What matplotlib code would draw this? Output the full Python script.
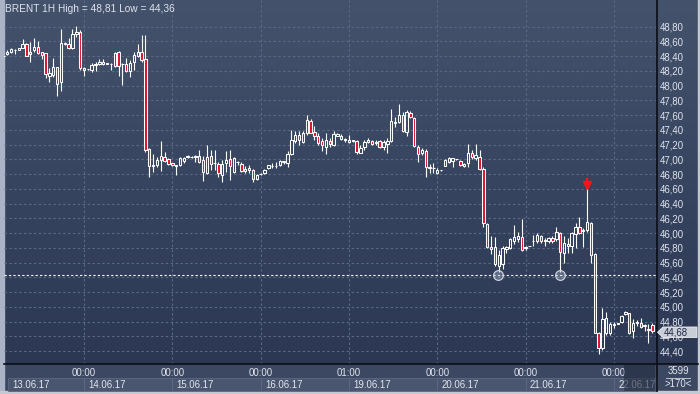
import numpy as np
import matplotlib
matplotlib.use("Agg")
import matplotlib.pyplot as plt
from matplotlib.patches import Rectangle, Polygon
from matplotlib.transforms import blended_transform_factory

plt.rcParams['font.family'] = ['Liberation Sans', 'DejaVu Sans']

# ---------------- data (BRENT 1H candles) ----------------
opens = [48.40, 48.435, 48.462, 48.48, 48.49, 48.516, 48.566, 48.435, 48.484, 48.52,
         48.453, 48.439, 48.136, 48.145, 48.249, 48.055, 48.566, 48.561, 48.516, 48.697,
         48.733, 48.213, 48.222, 48.213, 48.285, 48.29, 48.326, 48.303, 48.29, 48.272,
         48.453, 48.29, 48.29, 48.20, 48.326, 48.403, 48.453, 48.358, 47.137, 46.92,
         46.925, 46.993, 47.03, 47.006, 46.947, 46.92, 46.925, 46.985, 47.03, 47.03,
         47.03, 47.05, 46.993, 46.81, 47.047, 46.95, 46.94, 46.79, 46.955, 47.0,
         46.83, 46.96, 46.94, 46.84, 46.88, 46.857, 46.73, 46.80, 46.81, 46.88,
         46.905, 46.91, 46.925, 46.97, 46.95, 47.07, 47.25, 47.33, 47.241, 47.354,
         47.526, 47.368, 47.318, 47.255, 47.173, 47.255, 47.196, 47.32, 47.318, 47.273,
         47.24, 47.26, 47.255, 47.09, 47.165, 47.24, 47.25, 47.22, 47.255, 47.173,
         47.205, 47.255, 47.49, 47.512, 47.60, 47.377, 47.625, 47.558, 47.173, 47.083,
         47.12, 46.90, 46.89, 46.857, 46.853, 46.915, 46.97, 46.985, 47.0, 46.98,
         46.905, 46.947, 47.083, 47.02, 47.038, 46.866, 46.125, 45.81, 45.81, 45.555,
         45.58, 45.78, 45.80, 45.90, 45.92, 45.953, 45.80, 45.826, 45.89, 45.89,
         45.96, 45.90, 45.90, 45.94, 45.918, 45.998, 45.736, 45.82, 45.826, 45.99,
         46.08, 46.03, 46.043, 46.143, 45.718, 44.642, 44.44, 44.642, 44.642, 44.76,
         44.77, 44.79, 44.90, 44.913, 44.678, 44.78, 44.787, 44.74, 44.70, 44.75]
highs = [48.45, 48.484, 48.507, 48.493, 48.516, 48.629, 48.575, 48.588, 48.642, 48.611,
         48.46, 48.44, 48.236, 48.371, 48.255, 48.764, 48.597, 48.642, 48.764, 48.81,
         48.755, 48.258, 48.23, 48.303, 48.326, 48.362, 48.358, 48.31, 48.303, 48.453,
         48.475, 48.303, 48.371, 48.349, 48.453, 48.566, 48.688, 48.688, 47.16, 47.07,
         47.038, 47.25, 47.106, 47.02, 46.95, 46.93, 47.038, 47.038, 47.06, 47.04,
         47.06, 47.13, 47.04, 47.196, 47.128, 47.13, 46.97, 46.993, 47.12, 47.128,
         47.038, 46.985, 46.96, 46.91, 46.925, 46.87, 46.80, 46.81, 46.87, 46.93,
         46.95, 46.96, 46.99, 46.985, 47.12, 47.40, 47.38, 47.38, 47.39, 47.60,
         47.548, 47.45, 47.354, 47.287, 47.36, 47.287, 47.39, 47.36, 47.34, 47.296,
         47.33, 47.27, 47.27, 47.196, 47.264, 47.287, 47.264, 47.264, 47.27, 47.27,
         47.287, 47.69, 47.58, 47.75, 47.648, 47.67, 47.66, 47.58, 47.196, 47.16,
         47.137, 46.94, 46.947, 46.88, 46.86, 47.0, 47.038, 47.025, 47.01, 46.993,
         46.947, 47.21, 47.128, 47.21, 47.128, 46.90, 46.134, 45.96, 45.953, 45.77,
         45.82, 45.82, 45.93, 46.11, 46.02, 46.19, 45.82, 45.83, 45.975, 46.0,
         45.975, 45.94, 45.953, 45.96, 46.08, 46.02, 45.96, 45.93, 46.02, 46.134,
         46.215, 46.07, 46.608, 46.15, 45.73, 44.66, 44.98, 44.935, 44.80, 44.80,
         44.78, 44.89, 44.95, 44.92, 44.83, 44.82, 44.85, 44.77, 44.77, 44.78]
lows = [48.33, 48.416, 48.439, 48.43, 48.48, 48.507, 48.403, 48.326, 48.453, 48.425,
        48.362, 48.10, 48.05, 48.123, 47.865, 47.928, 48.55, 48.493, 48.493, 48.665,
        48.213, 48.136, 48.215, 48.181, 48.204, 48.281, 48.281, 48.295, 48.213, 48.258,
        48.132, 48.01, 48.181, 48.114, 48.213, 48.385, 48.326, 47.10, 46.76, 46.83,
        46.902, 46.85, 46.97, 46.925, 46.91, 46.79, 46.91, 46.95, 47.02, 47.02,
        46.97, 46.947, 46.712, 46.80, 46.857, 46.857, 46.767, 46.70, 46.834, 46.72,
        46.81, 46.925, 46.834, 46.81, 46.81, 46.70, 46.72, 46.79, 46.80, 46.87,
        46.88, 46.88, 46.91, 46.94, 46.90, 47.06, 47.22, 47.196, 47.219, 47.33,
        47.354, 47.264, 47.196, 47.115, 47.07, 47.173, 47.183, 47.32, 47.264, 47.24,
        47.228, 47.235, 47.07, 47.083, 47.128, 47.22, 47.196, 47.196, 47.16, 47.128,
        47.083, 47.24, 47.445, 47.49, 47.377, 47.318, 47.558, 47.173, 46.96, 47.06,
        46.758, 46.82, 46.812, 46.80, 46.85, 46.91, 46.947, 46.90, 46.99, 46.91,
        46.895, 46.90, 47.0, 46.99, 46.857, 46.09, 45.80, 45.72, 45.555, 45.48,
        45.52, 45.73, 45.78, 45.86, 45.88, 45.76, 45.77, 45.82, 45.82, 45.87,
        45.87, 45.82, 45.87, 45.87, 45.89, 45.48, 45.60, 45.73, 45.73, 45.80,
        45.99, 45.81, 46.02, 45.60, 44.64, 44.36, 44.416, 44.62, 44.62, 44.71,
        44.765, 44.78, 44.89, 44.63, 44.575, 44.74, 44.71, 44.68, 44.51, 44.64]
closes = [48.40, 48.453, 48.493, 48.485, 48.505, 48.561, 48.407, 48.462, 48.52, 48.448,
          48.416, 48.154, 48.168, 48.249, 48.023, 48.584, 48.584, 48.516, 48.701, 48.724,
          48.236, 48.236, 48.225, 48.281, 48.292, 48.317, 48.29, 48.30, 48.292, 48.439,
          48.267, 48.295, 48.204, 48.303, 48.421, 48.462, 48.349, 47.128, 46.91, 46.915,
          46.993, 47.047, 46.985, 46.94, 46.92, 46.91, 47.015, 47.025, 47.04, 47.03,
          47.045, 46.97, 46.825, 47.03, 46.94, 46.95, 46.812, 46.94, 46.993, 46.91,
          47.015, 46.97, 46.85, 46.87, 46.86, 46.73, 46.79, 46.80, 46.857, 46.925,
          46.915, 46.91, 46.98, 46.975, 47.08, 47.27, 47.33, 47.264, 47.354, 47.535,
          47.363, 47.323, 47.228, 47.196, 47.264, 47.21, 47.34, 47.35, 47.277, 47.27,
          47.26, 47.245, 47.106, 47.15, 47.24, 47.263, 47.205, 47.24, 47.173, 47.23,
          47.255, 47.52, 47.51, 47.60, 47.39, 47.648, 47.57, 47.183, 47.07, 47.128,
          46.893, 46.89, 46.88, 46.812, 46.853, 46.993, 47.015, 47.015, 47.0, 46.925,
          46.94, 47.083, 47.038, 47.06, 46.866, 46.134, 45.81, 45.79, 45.58, 45.70,
          45.795, 45.81, 45.916, 45.944, 45.966, 45.772, 45.81, 45.826, 45.90, 45.975,
          45.89, 45.91, 45.94, 45.90, 46.01, 45.75, 45.863, 45.85, 46.007, 46.08,
          46.0, 46.04, 46.157, 45.70, 44.651, 44.44, 44.83, 44.845, 44.77, 44.77,
          44.775, 44.877, 44.935, 44.642, 44.787, 44.79, 44.733, 44.75, 44.69, 44.68]

day_start_bars = [21, 44, 67, 90, 113, 136, 159]
day_time_labels = ['00:00', '00:00', '00:00', '01:00', '00:00', '00:00', '00:00']
date_labels = ['13.06.17', '14.06.17', '15.06.17', '16.06.17',
               '19.06.17', '20.06.17', '21.06.17', '22.06.17']
price_ticks = [44.4, 44.6, 44.8, 45.0, 45.2, 45.4, 45.6, 45.8, 46.0, 46.2, 46.4, 46.6,
               46.8, 47.0, 47.2, 47.4, 47.6, 47.8, 48.0, 48.2, 48.4, 48.6, 48.8]
support_level = 45.43
support_touch_bars = [128.8, 145.0]
signal_bar = 152
last_price = 44.68
title_text = "BRENT 1H High = 48,81 Low = 44,36"
bars_total_label = "3599"
visible_label = ">170<"

# ---------------- figure ----------------
W, H = 700, 394
fig = plt.figure(figsize=(7.0, 3.94), dpi=100)

def fx(px):
    return px / W

def fy(py):
    return 1 - py / H

# background gradient
bg = fig.add_axes([0, 0, 1, 1], zorder=-10)
bg.set_axis_off()
grad = np.linspace(0, 1, 256)[:, None]
top = np.array([0x44, 0x52, 0x6c]) / 255
bot = np.array([0x2b, 0x37, 0x53]) / 255
img = top[None, None, :] * (1 - grad[:, :, None]) + bot[None, None, :] * grad[:, :, None]
bg.imshow(img, extent=[0, W, 364, 0], aspect='auto')
bg.set_xlim(0, W)
bg.set_ylim(H, 0)
bg.add_patch(Rectangle((0, 364), W, 30, color='#3c4862', zorder=1))
bg.add_patch(Rectangle((0, 0), 3.5, H, color='#aab4c6', zorder=3))
bg.add_patch(Rectangle((0, 391), W, 3, color='#c4c8d0', zorder=3))
bg.add_patch(Rectangle((697.5, 0), 2.5, H, color='#c4c8d0', zorder=3))

ax = fig.add_axes([fx(4), fy(364), fx(653), 364 / H])
ax.set_facecolor('none')
xmin = 21 + (4 - 84) / 3.84
xmax = 21 + (657 - 84) / 3.84
ymin = 48.8 - (364 - 26.7) / 73.75
ymax = 48.8 + 26.7 / 73.75
ax.set_xlim(xmin, xmax)
ax.set_ylim(ymin, ymax)
for s in ax.spines.values():
    s.set_visible(False)

# grid
grid_c = '#5b6985'
for p in price_ticks:
    ax.axhline(p, color=grid_c, lw=0.8, ls=(0, (2.2, 2.2)), zorder=1)
for b in day_start_bars:
    ax.axvline(b, color=grid_c, lw=0.8, ls=(0, (2.2, 2.2)), zorder=1)

# candles
o = np.array(opens); h = np.array(highs); l = np.array(lows); c = np.array(closes)
x = np.arange(len(o))
top_b = np.maximum(o, c)
bot_b = np.minimum(o, c)
ax.vlines(x, top_b, h, color='white', lw=0.8, zorder=3)
ax.vlines(x, l, bot_b, color='white', lw=0.8, zorder=3)
up = c >= o
heights = np.maximum(top_b - bot_b, 0.006)
ax.bar(x[up], heights[up], bottom=bot_b[up], width=0.62, facecolor='none',
       edgecolor='white', linewidth=0.75, zorder=4)
ax.bar(x[~up], heights[~up], bottom=bot_b[~up], width=0.62, facecolor='#e3122d',
       edgecolor='white', linewidth=0.75, zorder=4)

# support line and touches
ax.axhline(support_level, color='white', lw=0.8, ls=(0, (2, 2)), zorder=5)
ax.plot(support_touch_bars, [support_level] * len(support_touch_bars), 'o', ms=7,
        mfc=(0.75, 0.78, 0.86, 0.35), mec='#d8dce6', mew=0.8, zorder=6)

# signal arrow (pointing down onto the spike high)
sig_h = highs[signal_bar]
ax.vlines(signal_bar, sig_h + 0.06, sig_h + 0.14, color='#ff1414', lw=1.6, zorder=7)
ax.plot([signal_bar], [sig_h + 0.04], marker='v', ms=5.5, color='#ff1414',
        mec='#ff1414', zorder=7)

# right price axis
ax.yaxis.tick_right()
ax.set_yticks(price_ticks)
ax.set_yticklabels([f"{p:.2f}".replace('.', ',') for p in price_ticks])
ax.tick_params(axis='y', length=0, pad=2, labelsize=6.9, labelcolor='#e0e5ee')
ax.set_xticks([])

# title
fig.text(fx(5), fy(8.5), title_text, fontsize=7.3, color='#dfe4ed', va='center', ha='left')

# separators
fig.add_artist(plt.Line2D([fx(3.5), fx(697.5)], [fy(364), fy(364)], color='#0a0e16', lw=1.2))
fig.add_artist(plt.Line2D([fx(657), fx(657)], [fy(0), fy(391)], color='#0a0e16', lw=1.2))

# x axis time labels and date boxes
tr = blended_transform_factory(ax.transData, ax.transAxes)
def ay(py):
    return (364 - py) / 364

box_starts = [21 + (8 - 84) / 3.84] + day_start_bars
box_ends = day_start_bars + [xmax]
for b, lab in zip(day_start_bars, day_time_labels):
    ax.text(b, ay(373), lab, transform=tr, ha='center', va='center', fontsize=6.9,
            color='#dfe4ed', clip_on=False)
for s, e, lab in zip(box_starts, box_ends, date_labels):
    ax.add_patch(Rectangle((s, ay(391)), e - s, ay(378) - ay(391), transform=tr,
                           facecolor='#4a566f', edgecolor='#5e6a83', lw=0.6,
                           clip_on=False, zorder=2))
    ax.text(s + 1.1, ay(384.5), lab, transform=tr, ha='left', va='center', fontsize=6.9,
            color='#e3e7ef', clip_on=False, zorder=3)
fig.add_artist(Rectangle((fx(624), fy(391)), fx(31), 26 / H, facecolor='#222b40',
                         alpha=0.6, edgecolor='none', transform=fig.transFigure))

# last price tag
py0, py1 = 327, 337.5
tag = Polygon([(fx(657.5), fy((py0 + py1) / 2)), (fx(663), fy(py0)), (fx(697), fy(py0)),
               (fx(697), fy(py1)), (fx(663), fy(py1))], closed=True,
              facecolor='#c9cdd6', edgecolor='#eef0f3', lw=0.6, transform=fig.transFigure,
              zorder=10)
fig.add_artist(tag)
fig.text(fx(663.5), fy(332.3), f"{last_price:.2f}".replace('.', ','), fontsize=6.9,
         color='#1c2842', ha='left', va='center', zorder=11)

# bottom-right counters
fig.text(fx(678), fy(371), bars_total_label, fontsize=6.9, color='#e0e5ee',
         ha='center', va='center')
fig.add_artist(plt.Line2D([fx(666), fx(690)], [fy(377.5), fy(377.5)], color='#d0d5de', lw=0.6))
fig.text(fx(678), fy(384), visible_label, fontsize=6.9, color='#e0e5ee',
         ha='center', va='center')

fig.savefig('out.png', dpi=100)
